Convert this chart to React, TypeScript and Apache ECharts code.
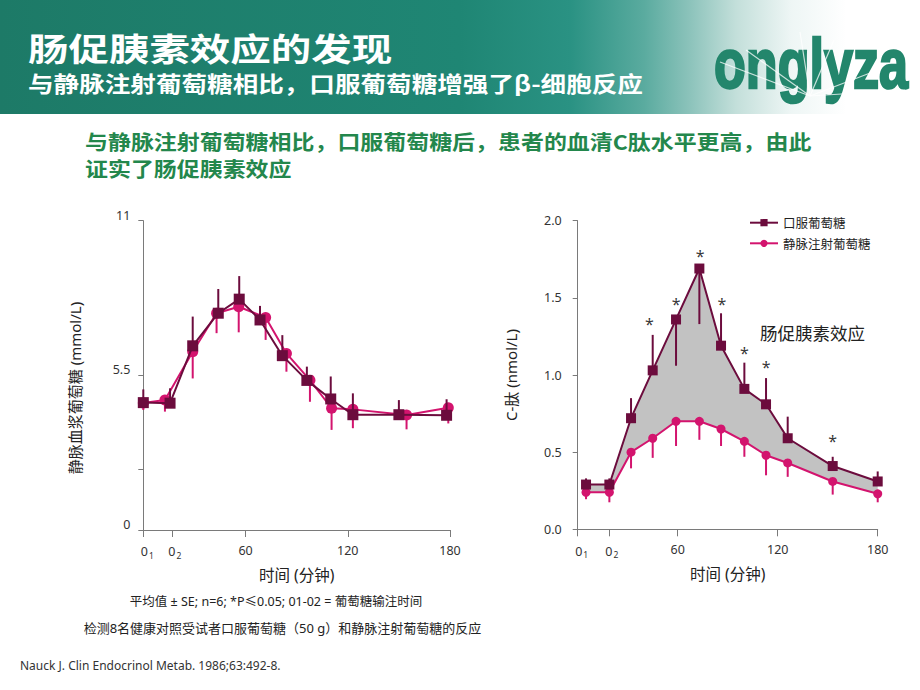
import React, { useEffect, useRef } from 'react';
import * as echarts from 'echarts';

// ---------- data ----------
const leftTickValues = [0, 17, 60, 120, 180];
const rightTickValues = [0, 19, 60, 120, 180];
const leftYTicks = [0, 2.17, 5.5, 11];
const leftYLabels = [0, 5.5, 11];

// left: venous plasma glucose (mmol/L)
const leftOralTime = [0, 15.7, 29, 44, 56.3, 68.5, 81.6, 96, 110, 123, 150, 178];
const leftOralGlucose = [4.53, 4.51, 6.55, 7.71, 8.21, 7.47, 6.2, 5.32, 4.66, 4.1, 4.1, 4.08];
const leftOralErr = [0.47, 0.53, 1.04, 0.86, 0.82, 0.5, 0.73, 0.49, 0.8, 0.76, 0.52, 0.57];
const leftIvTime = [0, 12.7, 29, 43, 56, 71.8, 84, 97.8, 110.5, 123, 154.5, 179];
const leftIvGlucose = [4.52, 4.62, 6.34, 7.71, 7.94, 7.56, 6.28, 5.33, 4.33, 4.29, 4.09, 4.35];
const leftIvErr = [0.25, 0.41, 0.95, 0.71, 0.91, 0.8, 0.65, 0.77, 0.77, 0.67, 0.51, 0.56];

// right: C-peptide (nmol/L)
const rightTime = [5, 19, 32, 45, 59, 73, 86, 100, 113, 126, 153, 180];
const rightOral = [0.29, 0.29, 0.72, 1.03, 1.36, 1.69, 1.19, 0.91, 0.81, 0.59, 0.41, 0.31];
// signed: positive = bar upward, negative = bar downward
const rightOralErr = [0.04, 0.04, 0.13, 0.23, -0.3, -0.36, 0.21, 0.17, 0.17, 0.14, 0.06, 0.065];
const rightIv = [0.24, 0.24, 0.5, 0.59, 0.7, 0.7, 0.65, 0.57, 0.48, 0.43, 0.31, 0.23];
const rightIvErr = [-0.045, -0.065, -0.105, -0.127, -0.16, -0.12, -0.11, -0.1, -0.13, -0.09, -0.085, -0.055];

// significance markers
const starTime = [43, 59, 73.5, 86.5, 100, 113, 153];
const starLevel = [1.35, 1.48, 1.79, 1.48, 1.16, 1.07, 0.59];

const legendNames = ['口服葡萄糖', '静脉注射葡萄糖'];

// ---------- styles ----------
const FONT = '"Noto Sans", "Noto Sans CJK SC", sans-serif';
const CJK = '"Noto Sans CJK SC", "Noto Sans", sans-serif';
const ORAL = '#6c0c3d';
const IV = '#d3146e';
const AXIS = '#7a7a7a';
const TEXT = '#222';
const FILL = '#c2c2c2';

function errorSeries(name: string, gi: number, times: number[], values: number[], errs: number[], sign: number, color: string, z: number) {
  return {
    type: 'custom',
    name,
    xAxisIndex: gi,
    yAxisIndex: gi,
    silent: true,
    z,
    data: times.map((t, i) => [t, values[i], values[i] + sign * errs[i]]),
    encode: { x: 0, y: [1, 2] },
    renderItem: (_p: any, api: any) => {
      const a = api.coord([api.value(0), api.value(1)]);
      const b = api.coord([api.value(0), api.value(2)]);
      return {
        type: 'line',
        shape: { x1: a[0], y1: a[1], x2: b[0], y2: b[1] },
        style: { stroke: color, lineWidth: 2 },
      };
    },
  };
}

const subRich = {
  n: { fontSize: 12.5, color: '#333', fontFamily: FONT },
  n1: { fontSize: 12.5, color: '#333', fontFamily: FONT, padding: [0, 0, 0, 8] },
  n2: { fontSize: 12.5, color: '#333', fontFamily: FONT, padding: [0, 0, 0, 5] },
  s: { fontSize: 8.5, color: '#333', fontFamily: FONT, padding: [7, 0, 0, 1] },
};

function xAxisCfg(gi: number, ticks: number[]) {
  return {
    type: 'value',
    gridIndex: gi,
    min: 0,
    max: 180,
    axisLine: { show: true, onZero: false, lineStyle: { color: AXIS, width: 1 } },
    axisTick: { show: true, customValues: ticks, length: 7, lineStyle: { color: AXIS, width: 1 } },
    axisLabel: {
      show: true,
      customValues: ticks,
      margin: 14,
      fontSize: 12.5,
      color: '#333',
      fontFamily: FONT,
      formatter: (v: number) => {
        if (v === ticks[0]) return '{n1|0}{s|1}';
        if (v === ticks[1]) return '{n2|0}{s|2}';
        return '{n|' + v + '}';
      },
      rich: subRich,
    },
    splitLine: { show: false },
    name: '时间 (分钟)',
    nameLocation: 'middle',
    nameGap: 37,
    nameTextStyle: { fontSize: 15.5, color: TEXT, fontFamily: FONT },
  };
}

const rays = [
  [720, 62],
  [746, 50],
  [800, 32],
  [834, 40],
  [878, 70],
  [905, 90],
];

const option: any = {
  animation: false,
  backgroundColor: '#ffffff',
  textStyle: { fontFamily: FONT },
  grid: [
    { left: 143.3, top: 220.7, width: 306.7, height: 309.3 },
    { left: 577.7, top: 220.7, width: 300, height: 308.6 },
  ],
  xAxis: [xAxisCfg(0, leftTickValues), xAxisCfg(1, rightTickValues)],
  yAxis: [
    {
      type: 'value',
      gridIndex: 0,
      min: 0,
      max: 11,
      axisLine: { show: true, lineStyle: { color: AXIS, width: 1 } },
      axisTick: { show: true, customValues: leftYTicks, length: 5, lineStyle: { color: AXIS } },
      axisLabel: {
        customValues: leftYLabels,
        margin: 13,
        fontSize: 12.5,
        color: '#333',
        fontFamily: FONT,
        verticalAlign: 'bottom',
        lineHeight: 11,
      },
      splitLine: { show: false },
    },
    {
      type: 'value',
      gridIndex: 1,
      min: 0,
      max: 2,
      interval: 0.5,
      axisLine: { show: true, lineStyle: { color: AXIS, width: 1 } },
      axisTick: { show: true, length: 5, lineStyle: { color: AXIS } },
      axisLabel: { margin: 16, fontSize: 12.5, color: '#333', fontFamily: FONT, formatter: (v: number) => v.toFixed(1) },
      splitLine: { show: false },
      name: 'C-肽 (nmol/L)',
      nameLocation: 'middle',
      nameGap: 59,
      nameRotate: 90,
      nameTextStyle: { fontSize: 15, color: TEXT, fontFamily: FONT },
    },
  ],
  legend: {
    data: legendNames,
    orient: 'vertical',
    left: 749,
    top: 215.7,
    padding: 0,
    itemWidth: 28,
    itemHeight: 9,
    itemGap: 6.6,
    textStyle: { fontSize: 12.5, color: TEXT, fontFamily: CJK, lineHeight: 14 },
    selectedMode: false,
  },
  series: [
    // ----- left chart -----
    errorSeries('errIvL', 0, leftIvTime, leftIvGlucose, leftIvErr, -1, IV, 2),
    {
      type: 'line',
      name: 'ivL',
      xAxisIndex: 0,
      yAxisIndex: 0,
      data: leftIvTime.map((t, i) => [t, leftIvGlucose[i]]),
      symbol: 'circle',
      symbolSize: 11,
      lineStyle: { color: IV, width: 2 },
      itemStyle: { color: IV },
      z: 3,
    },
    errorSeries('errOralL', 0, leftOralTime, leftOralGlucose, leftOralErr, 1, ORAL, 4),
    {
      type: 'line',
      name: 'oralL',
      xAxisIndex: 0,
      yAxisIndex: 0,
      data: leftOralTime.map((t, i) => [t, leftOralGlucose[i]]),
      symbol: 'rect',
      symbolSize: 11,
      lineStyle: { color: ORAL, width: 2 },
      itemStyle: { color: ORAL },
      z: 5,
    },
    // ----- right chart -----
    {
      type: 'custom',
      name: 'band',
      xAxisIndex: 1,
      yAxisIndex: 1,
      silent: true,
      z: 1,
      data: [[rightTime[0], rightOral[0]]],
      renderItem: (_p: any, api: any) => {
        const top = rightTime.map((t, i) => api.coord([t, rightOral[i]]));
        const bottom = rightTime.map((t, i) => api.coord([t, rightIv[i]])).reverse();
        return { type: 'polygon', shape: { points: top.concat(bottom) }, style: { fill: FILL } };
      },
    },
    errorSeries('errIvR', 1, rightTime, rightIv, rightIvErr, 1, IV, 2),
    {
      type: 'line',
      name: legendNames[1],
      xAxisIndex: 1,
      yAxisIndex: 1,
      data: rightTime.map((t, i) => [t, rightIv[i]]),
      symbol: 'circle',
      symbolSize: 9,
      lineStyle: { color: IV, width: 2 },
      itemStyle: { color: IV },
      z: 3,
    },
    errorSeries('errOralR', 1, rightTime, rightOral, rightOralErr, 1, ORAL, 4),
    {
      type: 'line',
      name: legendNames[0],
      xAxisIndex: 1,
      yAxisIndex: 1,
      data: rightTime.map((t, i) => [t, rightOral[i]]),
      symbol: 'rect',
      symbolSize: 10,
      lineStyle: { color: ORAL, width: 2 },
      itemStyle: { color: ORAL },
      z: 5,
    },
    {
      type: 'scatter',
      name: 'stars',
      xAxisIndex: 1,
      yAxisIndex: 1,
      silent: true,
      z: 6,
      data: starTime.map((t, i) => [t, starLevel[i]]),
      symbolSize: 2,
      itemStyle: { color: 'rgba(255,255,255,0)' },
      label: {
        show: true,
        position: 'inside',
        formatter: '*',
        fontSize: 16,
        color: '#000',
        fontFamily: FONT,
        offset: [0, 3],
      },
    },
  ],
  graphic: [
    {
      type: 'rect',
      z: -10,
      shape: { x: 0, y: 0, width: 920, height: 114 },
      style: {
        fill: {
          type: 'linear',
          x: 0,
          y: 0,
          x2: 1,
          y2: 0,
          colorStops: [
            { offset: 0, color: '#1d7a67' },
            { offset: 0.5, color: '#1f8674' },
            { offset: 0.62, color: '#2a9283' },
            { offset: 0.7, color: '#5aab9f' },
            { offset: 0.75, color: '#8cc3bb' },
            { offset: 0.8, color: '#c3dfda' },
            { offset: 0.86, color: '#eef6f5' },
            { offset: 0.92, color: '#ffffff' },
            { offset: 1, color: '#ffffff' },
          ],
        },
      },
    },
    {
      type: 'text',
      x: 28,
      y: 47.5,
      scaleX: 1.265,
      style: {
        text: '肠促胰素效应的发现',
        fill: '#ffffff',
        font: 'bold 32px "Noto Sans CJK SC", sans-serif',
        verticalAlign: 'middle',
        align: 'left',
      },
    },
    {
      type: 'text',
      x: 28,
      y: 82.5,
      scaleX: 1.19,
      style: {
        text: '与静脉注射葡萄糖相比，口服葡萄糖增强了β-细胞反应',
        fill: '#ffffff',
        font: 'bold 21.5px "Noto Sans CJK SC", sans-serif',
        verticalAlign: 'middle',
        align: 'left',
      },
    },
    {
      type: 'text',
      x: 714,
      y: 63.5,
      scaleX: 0.745,
      style: {
        text: 'onglyza',
        font: 'bold 70px "Liberation Sans", Arial, sans-serif',
        verticalAlign: 'middle',
        align: 'left',
        fill: '#23866c',
        stroke: '#23866c',
        lineWidth: 2.5,
      },
    },
    ...rays.map((p) => ({
      type: 'line',
      z: 10,
      silent: true,
      shape: { x1: 810, y1: 96, x2: p[0], y2: p[1] },
      style: { stroke: 'rgba(255,255,255,0.75)', lineWidth: 1.2 },
    })),
    {
      type: 'text',
      x: 75,
      y: 388,
      rotation: Math.PI / 2,
      style: {
        text: '静脉血浆葡萄糖 (mmol/L)',
        fill: TEXT,
        font: '15px "Noto Sans", "Noto Sans CJK SC", sans-serif',
        verticalAlign: 'middle',
        align: 'center',
      },
    },
    {
      type: 'text',
      x: 85,
      y: 140.8,
      scaleX: 1.12,
      style: {
        text: '与静脉注射葡萄糖相比，口服葡萄糖后，患者的血清C肽水平更高，由此',
        fill: '#23874c',
        font: 'bold 20.5px "Noto Sans CJK SC", sans-serif',
        verticalAlign: 'middle',
        align: 'left',
      },
    },
    {
      type: 'text',
      x: 85,
      y: 168.3,
      scaleX: 1.12,
      style: {
        text: '证实了肠促胰素效应',
        fill: '#23874c',
        font: 'bold 20.5px "Noto Sans CJK SC", sans-serif',
        verticalAlign: 'middle',
        align: 'left',
      },
    },
    {
      type: 'text',
      x: 760,
      y: 332.7,
      style: {
        text: '肠促胰素效应',
        fill: TEXT,
        font: '17.5px "Noto Sans CJK SC", sans-serif',
        verticalAlign: 'middle',
        align: 'left',
      },
    },
    {
      type: 'text',
      x: 276,
      y: 601,
      style: {
        text: '平均值 ± SE; n=6; *P≤0.05; 01-02 = 葡萄糖输注时间',
        fill: TEXT,
        font: '12.5px "Noto Sans", "Noto Sans CJK SC", sans-serif',
        verticalAlign: 'middle',
        align: 'center',
      },
    },
    {
      type: 'text',
      x: 282.5,
      y: 628,
      style: {
        text: '检测8名健康对照受试者口服葡萄糖（50 g）和静脉注射葡萄糖的反应',
        fill: TEXT,
        font: '13px "Noto Sans", "Noto Sans CJK SC", sans-serif',
        verticalAlign: 'middle',
        align: 'center',
      },
    },
    {
      type: 'text',
      x: 20,
      y: 665,
      style: {
        text: 'Nauck J. Clin Endocrinol Metab. 1986;63:492-8.',
        fill: '#333',
        font: '12px "Noto Sans", sans-serif',
        verticalAlign: 'middle',
        align: 'left',
      },
    },
  ],
};

export default function App() {
  const ref = useRef<HTMLDivElement>(null);
  useEffect(() => {
    const chart = echarts.init(ref.current as HTMLDivElement, undefined, { renderer: 'svg' });
    chart.setOption(option);
    return () => {
      chart.dispose();
    };
  }, []);
  return (
    <div
      ref={ref}
      style={{ position: 'fixed', left: 0, top: 0, width: 920, height: 690, background: '#ffffff' }}
    />
  );
}
